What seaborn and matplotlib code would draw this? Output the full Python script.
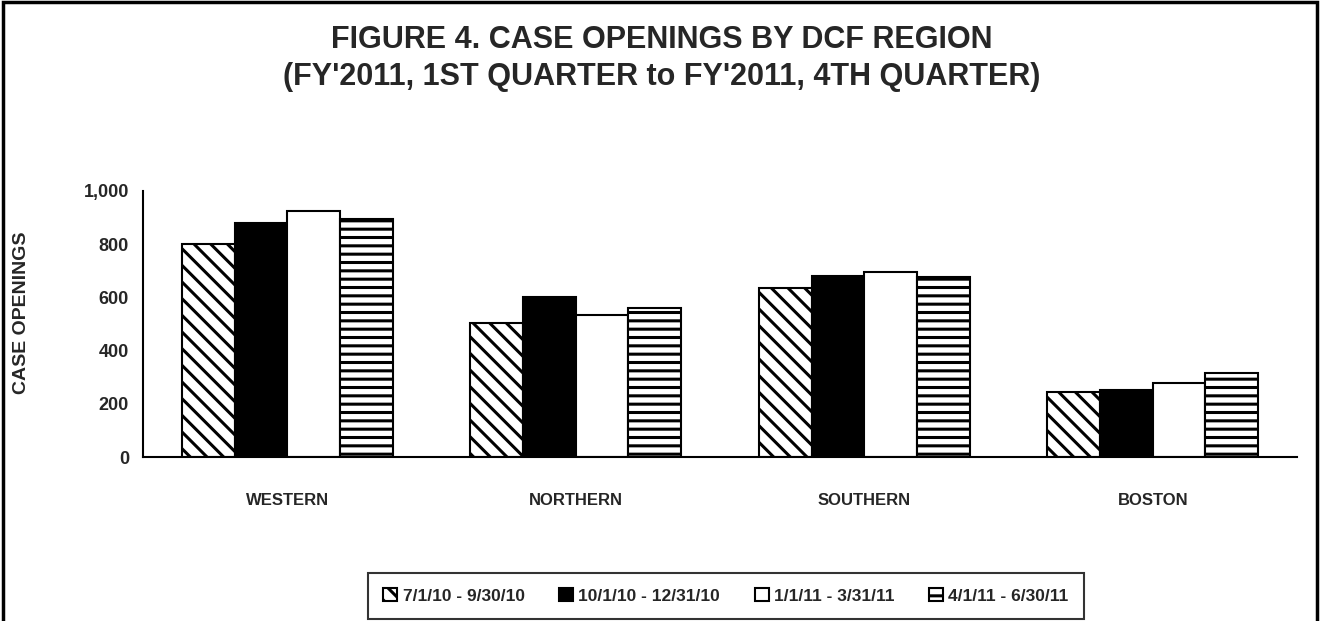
import matplotlib
matplotlib.use("Agg")
import matplotlib.pyplot as plt
from matplotlib.patches import Patch, Rectangle
import pandas as pd
import seaborn as sns

# datos
regiones = ["WESTERN", "NORTHERN", "SOUTHERN", "BOSTON"]
trimestres = ["7/1/10 - 9/30/10", "10/1/10 - 12/31/10", "1/1/11 - 3/31/11", "4/1/11 - 6/30/11"]
q1 = [800, 503, 634, 245]
q2 = [880, 601, 682, 253]
q3 = [925, 533, 694, 278]
q4 = [895, 562, 678, 316]
yticks = [0, 200, 400, 600, 800, 1000]

sns.set_style("white")
plt.rcParams["font.family"] = ["Liberation Sans Narrow", "Liberation Sans", "DejaVu Sans"]
plt.rcParams["font.weight"] = "bold"
plt.rcParams["hatch.linewidth"] = 2.2

df = pd.DataFrame({
    "region": regiones * 4,
    "trimestre": [t for t in trimestres for _ in regiones],
    "valor": q1 + q2 + q3 + q4,
})

fig = plt.figure(figsize=(13.23, 6.21), dpi=100)
ax = fig.add_axes([143 / 1323, 1 - 457 / 621, (1297 - 143) / 1323, (457 - 191) / 621])

sns.barplot(data=df, x="region", y="valor", hue="trimestre", order=regiones,
            hue_order=trimestres, width=0.73, ax=ax, legend=False, errorbar=None)

estilos = [("white", "\\\\"), ("black", ""), ("white", ""), ("white", "--")]
for cont, (fc, h) in zip(ax.containers, estilos):
    for p in cont.patches:
        p.set_facecolor(fc)
        p.set_edgecolor("black")
        p.set_linewidth(1.5)
        p.set_hatch(h)

ax.set_xlim(-0.5, 3.5)
ax.set_ylim(0, 1000)
ax.set_yticks(yticks)
ax.set_yticklabels([f"{v:,}" for v in yticks], fontsize=13, fontweight="bold")
ax.set_xticks([-0.5, 0.5, 1.5, 2.5, 3.5])
ax.set_xticklabels([])
ax.set_xticks(range(len(regiones)), minor=True)
ax.set_xticklabels(regiones, minor=True, fontsize=12, fontweight="bold")
ax.tick_params(axis="x", which="major", direction="out", length=8, width=1.5, color="black")
ax.tick_params(axis="x", which="minor", length=0, pad=26)
ax.tick_params(axis="y", direction="out", length=6, width=1.5, color="black", pad=4)
ax.set_xlabel("")
ax.set_ylabel("")
for s in ["top", "right"]:
    ax.spines[s].set_visible(False)
for s in ["left", "bottom"]:
    ax.spines[s].set_linewidth(1.5)
    ax.spines[s].set_color("black")

fig.text(0.5, 1 - 40 / 621, "FIGURE 4. CASE OPENINGS BY DCF REGION",
         ha="center", va="center", fontsize=22, fontweight="bold")
fig.text(0.5, 1 - 77 / 621, "(FY'2011, 1ST QUARTER to FY'2011, 4TH QUARTER)",
         ha="center", va="center", fontsize=22, fontweight="bold")
fig.text(22 / 1323, 1 - 313 / 621, "CASE OPENINGS", rotation=90,
         ha="center", va="center", fontsize=14, fontweight="bold")

handles = [Patch(facecolor=fc, edgecolor="black", hatch=h, linewidth=1.5)
           for fc, h in estilos]
leg = fig.legend(handles, trimestres, ncol=4, loc="center",
                 bbox_to_anchor=(726 / 1323, 1 - 596 / 621),
                 prop={"size": 12.5, "weight": "bold"}, frameon=True,
                 fancybox=False, edgecolor="black", handlelength=0.8,
                 handleheight=0.8, handletextpad=0.3, columnspacing=2.0,
                 borderpad=0.9)
leg.get_frame().set_linewidth(1.5)

# marco exterior
fig.patches.append(Rectangle((3 / 1323, -0.05), 1314 / 1323, 1.05 - 2 / 621,
                             transform=fig.transFigure, fill=False,
                             edgecolor="black", linewidth=2.5))

fig.savefig("out.png", dpi=100)
